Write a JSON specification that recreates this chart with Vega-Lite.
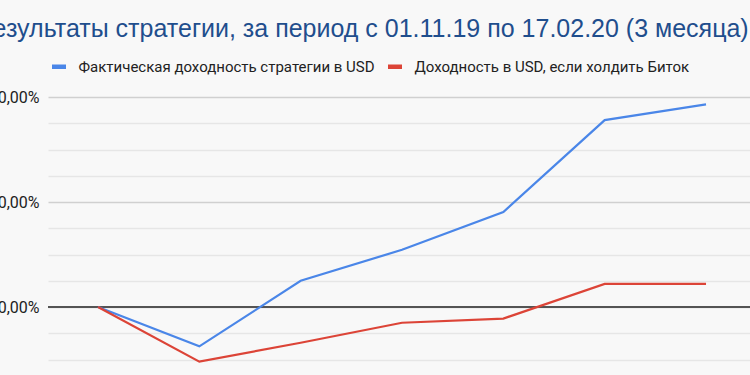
{
  "$schema": "https://vega.github.io/schema/vega-lite/v6.json",
  "width": 702,
  "height": 278,
  "autosize": {"type": "none"},
  "padding": {"left": 48, "top": 97, "right": 0, "bottom": 0},
  "background": "#f8f8f8",
  "title": {
    "text": "Результаты стратегии, за период с 01.11.19 по 17.02.20 (3 месяца)",
    "anchor": "start",
    "frame": "group",
    "font": "Liberation Sans",
    "fontSize": 25,
    "fontWeight": "normal",
    "color": "#1f4e8d",
    "dx": -71,
    "offset": 15
  },
  "config": {
    "view": {"stroke": null},
    "font": "Roboto"
  },
  "data": {
    "values": [
      {"point": 1, "series": "Фактическая доходность стратегии в USD", "value": 0},
      {"point": 2, "series": "Фактическая доходность стратегии в USD", "value": -7.5},
      {"point": 3, "series": "Фактическая доходность стратегии в USD", "value": 5.0},
      {"point": 4, "series": "Фактическая доходность стратегии в USD", "value": 10.9},
      {"point": 5, "series": "Фактическая доходность стратегии в USD", "value": 18.1},
      {"point": 6, "series": "Фактическая доходность стратегии в USD", "value": 35.6},
      {"point": 7, "series": "Фактическая доходность стратегии в USD", "value": 38.6},
      {"point": 1, "series": "Доходность в USD, если холдить Биток", "value": 0},
      {"point": 2, "series": "Доходность в USD, если холдить Биток", "value": -10.4},
      {"point": 3, "series": "Доходность в USD, если холдить Биток", "value": -6.8},
      {"point": 4, "series": "Доходность в USD, если холдить Биток", "value": -3.0},
      {"point": 5, "series": "Доходность в USD, если холдить Биток", "value": -2.2},
      {"point": 6, "series": "Доходность в USD, если холдить Биток", "value": 4.4},
      {"point": 7, "series": "Доходность в USD, если холдить Биток", "value": 4.4}
    ]
  },
  "resolve": {"scale": {"y": "independent"}},
  "layer": [
    {
      "mark": {"type": "rule", "color": "#555555", "strokeWidth": 1.5},
      "encoding": {
        "y": {
          "datum": 0,
          "type": "quantitative",
          "scale": {"domain": [-12.95, 40], "nice": false, "zero": false},
          "axis": {
            "orient": "right",
            "title": null,
            "values": [-10, -5, 5, 10, 15, 25, 30, 35],
            "labels": false,
            "domain": false,
            "ticks": false,
            "grid": true,
            "gridColor": "#e6e6e6",
            "gridWidth": 1.5
          }
        }
      }
    },
    {
      "mark": {"type": "line", "strokeWidth": 2.2},
      "encoding": {
        "x": {"field": "point", "type": "quantitative", "axis": null, "scale": {"domain": [0.5066, 7.434], "nice": false, "zero": false}},
        "y": {
          "field": "value",
          "type": "quantitative",
          "scale": {"domain": [-12.95, 40], "nice": false, "zero": false},
          "axis": {
            "orient": "left",
            "title": null,
            "values": [0, 20, 40],
            "labelExpr": "replace(format(datum.value, '.2f'), '.', ',') + '%'",
            "domain": false,
            "ticks": false,
            "grid": true,
            "labelFontSize": 16,
            "labelColor": "#222222",
            "labelFont": "Roboto",
            "labelPadding": 9,
            "gridColor": "#d0d0d0",
            "gridWidth": 1.5
          }
        },
        "color": {
          "field": "series",
          "type": "nominal",
          "scale": {
            "domain": ["Фактическая доходность стратегии в USD", "Доходность в USD, если холдить Биток"],
            "range": ["#4a86e8", "#dc4437"]
          },
          "legend": {
            "title": null,
            "orient": "none",
            "direction": "horizontal",
            "legendX": 1.5,
            "legendY": -40,
            "labelFontSize": 15,
            "labelColor": "#222222",
            "labelFont": "Roboto",
            "symbolType": "stroke",
            "symbolSize": 196,
            "symbolStrokeWidth": 4.5,
            "labelOffset": 10,
            "columnPadding": 3,
            "labelLimit": 400
          }
        }
      }
    }
  ]
}
